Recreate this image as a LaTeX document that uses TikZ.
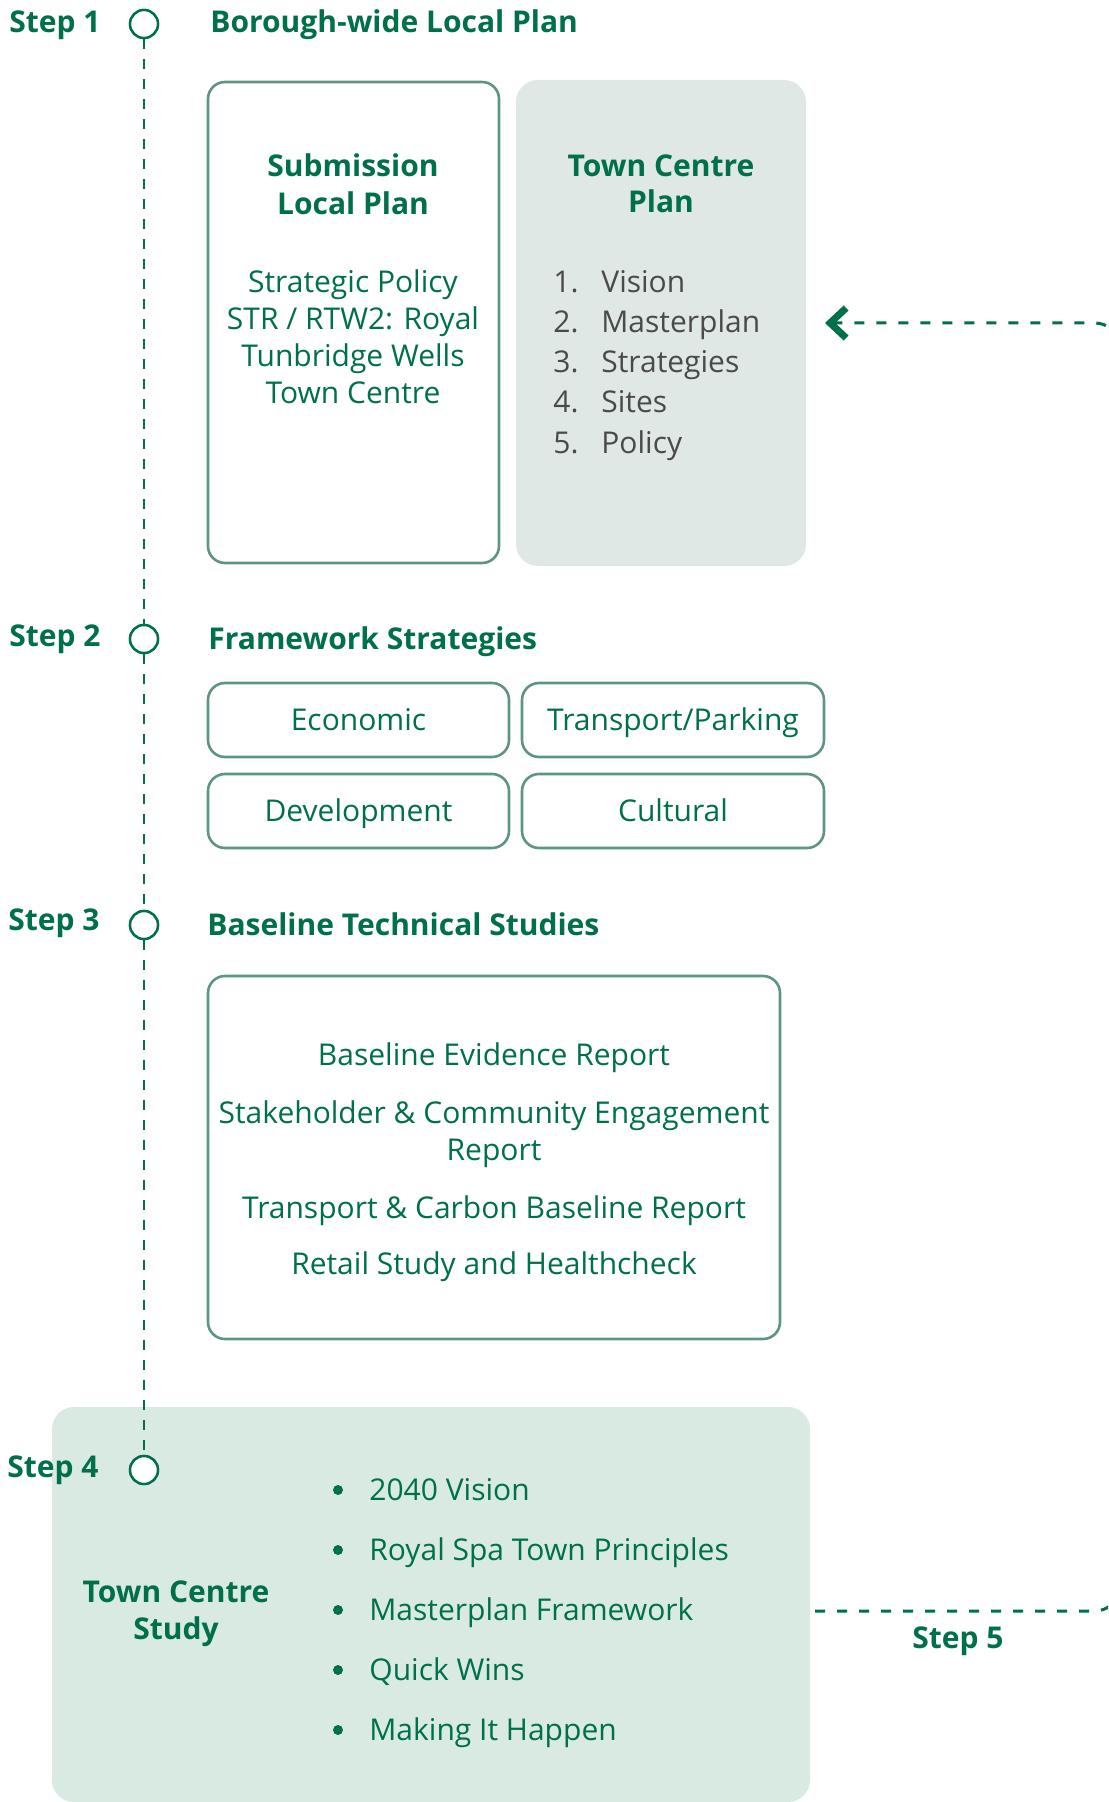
\documentclass[tikz,border=0pt]{standalone}
\usepackage{fontspec}
\setmainfont{Open Sans}
\usetikzlibrary{arrows.meta}
\definecolor{tgreen}{HTML}{00704A}
\definecolor{tgray}{HTML}{4A4A4A}
\definecolor{bstroke}{HTML}{5E9482}
\definecolor{fillA}{HTML}{DFE8E4}
\definecolor{fillB}{HTML}{D9EAE3}
\begin{document}
\begin{tikzpicture}[x=0.5pt,y=-0.5pt,
  txt/.style={font=\fontsize{15}{18}\selectfont, text=tgreen, inner sep=0pt, anchor=base},
  btxt/.style={txt, font=\fontsize{15}{18}\selectfont\bfseries},
  gtxt/.style={txt, text=tgray, anchor=base west},
  box/.style={draw=bstroke, line width=1.3pt, rounded corners=8.5pt, fill=white, inner sep=0pt},
  panel/.style={rounded corners=11pt, inner sep=0pt},
  stepdot/.style={circle, draw=tgreen, line width=1.2pt, minimum size=14pt, inner sep=0pt, fill=white},
  vdash/.style={draw=tgreen, line width=1.4pt, dash pattern=on 5pt off 5pt},
  hdash/.style={draw=tgreen, line width=1.5pt, dash pattern=on 5pt off 6pt},
  bul/.style={circle, fill=tgreen, minimum size=5pt, inner sep=0pt}
]
\useasboundingbox (0,0) rectangle (1108,1802);
\clip (0,0) rectangle (1108,1802);
\fill[white] (0,0) rectangle (1108,1802);

% ---- boxes ----
\node[box, minimum width=145.5pt, minimum height=240.5pt] (slp) at (353.5,322.5) {};
\node[panel, fill=fillA, minimum width=145pt, minimum height=243pt] (tcp) at (661,323) {};
\node[box, minimum width=150.5pt, minimum height=37pt] (econ) at (358.5,720) {};
\node[box, minimum width=151pt, minimum height=37pt] (trans) at (673,720) {};
\node[box, minimum width=150.5pt, minimum height=37pt] (dev) at (358.5,811) {};
\node[box, minimum width=151pt, minimum height=37pt] (cult) at (673,811) {};
\node[box, minimum width=286pt, minimum height=181.5pt] (base) at (494,1157.5) {};
\node[panel, fill=fillB, minimum width=379pt, minimum height=197.5pt] (tcs) at (431,1604.5) {};

% ---- timeline ----
\node[stepdot] (c1) at (144,24) {};
\node[stepdot] (c2) at (144,639) {};
\node[stepdot] (c3) at (144,925) {};
\node[stepdot] (c4) at (144,1470) {};
\draw[vdash] (c1.south) -- (c2.north);
\draw[vdash] (c2.south) -- (c3.north);
\draw[vdash] (c3.south) -- (c4.north);
\node[stepdot] at (c1) {};
\node[stepdot] at (c2) {};
\node[stepdot] at (c3) {};
\node[stepdot] at (c4) {};

\node[btxt, anchor=base west] (s1) at (9,33) {Step 1};
\node[btxt, anchor=base west] (s2) at (9,646) {Step 2};
\node[btxt, anchor=base west] (s3) at (8,930) {Step 3};
\node[btxt, anchor=base west] (s4) at (7,1477) {Step 4};

\node[btxt, anchor=base west] (h1) at (210,33) {Borough-wide Local Plan};
\node[btxt, anchor=base west] (h2) at (208,649) {Framework Strategies};
\node[btxt, anchor=base west] (h3) at (207,935) {Baseline Technical Studies};

% ---- Step 1 contents ----
\node[btxt] (slp1) at (353,177) {Submission};
\node[btxt] (slp2) at (353,215) {Local Plan};
\node[txt] (slp3) at (353,293) {Strategic Policy};
\node[txt] (slp4) at (353,330) {STR / RTW2: Royal};
\node[txt] (slp5) at (353,367) {Tunbridge Wells};
\node[txt] (slp6) at (353,404) {Town Centre};

\node[btxt] (tcp1) at (661,177) {Town Centre};
\node[btxt] (tcp2) at (661,213) {Plan};
\foreach \i/\t in {1/Vision,2/Masterplan,3/Strategies,4/Sites,5/Policy}{
  \node[gtxt] (tcpn\i) at (553,{293+40*(\i-1)}) {\i.};
  \node[gtxt] (tcpt\i) at (601,{293+40*(\i-1)}) {\t};
}

% ---- Step 2 contents ----
\node[txt] (econT) at ([yshift=-5pt]econ.center) {Economic};
\node[txt] (transT) at ([yshift=-5pt]trans.center) {Transport/Parking};
\node[txt] (devT) at ([yshift=-5pt]dev.center) {Development};
\node[txt] (cultT) at ([yshift=-5pt]cult.center) {Cultural};

% ---- Step 3 contents ----
\node[txt] (b1) at (494,1065) {Baseline Evidence Report};
\node[txt] (b2) at (494,1123) {Stakeholder \& Community Engagement};
\node[txt] (b3) at (494,1160) {Report};
\node[txt] (b4) at (494,1218) {Transport \& Carbon Baseline Report};
\node[txt] (b5) at (494,1274) {Retail Study and Healthcheck};

% ---- Step 4 contents ----
\node[btxt] (tcs1) at (176,1602) {Town Centre};
\node[btxt] (tcs2) at (176,1639) {Study};
\foreach \i/\t in {1/2040 Vision,2/Royal Spa Town Principles,3/Masterplan Framework,4/Quick Wins,5/Making It Happen}{
  \node[bul] (bd\i) at (338,{1490+60*(\i-1)}) {};
  \node[txt, anchor=base west] (bt\i) at (369,{1500+60*(\i-1)}) {\t};
}

% ---- Step 5 loop ----
\coordinate (loopstart) at (815,1611);
\coordinate (looptip) at (825,323);
\draw[hdash, rounded corners=12pt, -{Straight Barb[length=8pt,width=15pt,line width=3.5pt]}]
  (loopstart) -- (1119,1611) -- (1119,323) -- (looptip);
\node[btxt] (s5) at (958,1648) {Step 5};
\end{tikzpicture}
\end{document}
